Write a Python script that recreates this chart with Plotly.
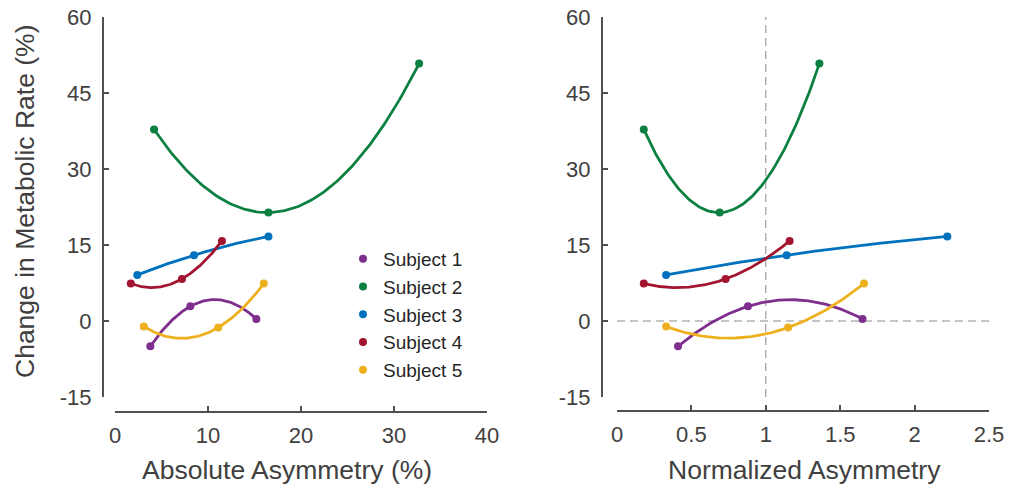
import numpy as np
import plotly.graph_objects as go

# Change in metabolic rate (%) for three asymmetry conditions per subject
subjects = ["Subject 1", "Subject 2", "Subject 3", "Subject 4", "Subject 5"]
metabolic_change = [
    [-5.0, 2.9, 0.4],
    [37.8, 21.4, 50.8],
    [9.1, 13.0, 16.7],
    [7.4, 8.3, 15.8],
    [-1.1, -1.3, 7.4],
]
# Absolute asymmetry (%) for each condition
absolute_asym = [
    [3.8, 8.1, 15.2],
    [4.2, 16.5, 32.7],
    [2.4, 8.5, 16.5],
    [1.7, 7.2, 11.5],
    [3.1, 11.1, 16.0],
]
# Asymmetry normalized to each subject's natural asymmetry
normalized_asym = [
    [0.41, 0.88, 1.65],
    [0.18, 0.69, 1.36],
    [0.33, 1.14, 2.22],
    [0.18, 0.73, 1.16],
    [0.33, 1.15, 1.66],
]
colors = ["#7E2F8E", "#0B8041", "#0072BD", "#A2142F", "#EDB120"]

y_ticks = [-15, 0, 15, 30, 45, 60]
y_ticktext = ["-15", "0", "15", "30", "45", "60"]
x1_ticks = [0, 10, 20, 30, 40]
x2_ticks = [0, 0.5, 1, 1.5, 2, 2.5]
x2_ticktext = ["0", "0.5", "1", "1.5", "2", "2.5"]

W, H = 1009, 494
FONT = "Liberation Sans, Arial, Helvetica, sans-serif"
AXC = "#505050"
TXT = "#404040"


def px_x(p):
    return p / W


def px_y(p):
    return 1 - p / H


fig = go.Figure()


def add_panel(xvals, xa, ya, legend):
    for i, name in enumerate(subjects):
        x = np.array(xvals[i])
        y = np.array(metabolic_change[i])
        # quadratic fit through each subject's three conditions
        coef = np.polyfit(x, y, 2)
        xs = np.linspace(x.min(), x.max(), 120)
        fig.add_trace(go.Scatter(
            x=xs, y=np.polyval(coef, xs), mode="lines",
            line=dict(color=colors[i], width=2.8),
            xaxis=xa, yaxis=ya, showlegend=False, hoverinfo="skip"))
        fig.add_trace(go.Scatter(
            x=x, y=y, mode="markers", name=name,
            marker=dict(color=colors[i], size=8),
            xaxis=xa, yaxis=ya, showlegend=legend))


add_panel(absolute_asym, "x", "y", True)
add_panel(normalized_asym, "x2", "y2", False)

axis_common = dict(
    showline=True, linecolor=AXC, linewidth=2,
    ticks="inside", ticklen=5, tickwidth=2, tickcolor=AXC,
    showgrid=False, zeroline=False, automargin=False,
    tickfont=dict(family=FONT, size=22, color=TXT),
)
y_dom = [px_y(397), px_y(17)]

fig.update_layout(
    width=W, height=H,
    margin=dict(l=0, r=0, t=0, b=0, autoexpand=False),
    paper_bgcolor="white", plot_bgcolor="white",
    xaxis=dict(domain=[px_x(115), px_x(487)], range=[0, 40],
               anchor="free", position=px_y(411.5), tickvals=x1_ticks,
               ticklabelstandoff=4, **axis_common),
    yaxis=dict(domain=y_dom, range=[-15, 60], anchor="free",
               position=px_x(103), tickvals=y_ticks, ticktext=y_ticktext,
               ticklabelstandoff=6, **axis_common),
    xaxis2=dict(domain=[px_x(617), px_x(989)], range=[0, 2.5],
                anchor="free", position=px_y(410.5), tickvals=x2_ticks,
                ticktext=x2_ticktext, ticklabelstandoff=4, **axis_common),
    yaxis2=dict(domain=y_dom, range=[-15, 60], anchor="free",
                position=px_x(602), tickvals=y_ticks, ticktext=y_ticktext,
                ticklabelstandoff=6, **axis_common),
    legend=dict(x=px_x(343), y=px_y(240), xanchor="left", yanchor="top",
                bgcolor="rgba(0,0,0,0)", borderwidth=0, tracegroupgap=0,
                font=dict(family=FONT, size=19, color="#262626")),
    showlegend=True,
)

# Reference lines at zero change and at normalized asymmetry of 1
fig.add_shape(type="line", xref="x2", yref="y2", x0=0, x1=2.5, y0=0, y1=0,
              line=dict(color="#8a8a8a", width=1, dash="8px,5px"), layer="below")
fig.add_shape(type="line", xref="x2", yref="y2", x0=1, x1=1, y0=-15, y1=60,
              line=dict(color="#8a8a8a", width=1, dash="8px,5px"), layer="below")

title_font = dict(family=FONT, size=26.5, color=TXT)
fig.add_annotation(text="Absolute Asymmetry (%)", xref="paper", yref="paper",
                   x=px_x(287), y=px_y(470), xanchor="center", yanchor="middle",
                   showarrow=False, font=title_font)
fig.add_annotation(text="Normalized Asymmetry", xref="paper", yref="paper",
                   x=px_x(804), y=px_y(470), xanchor="center", yanchor="middle",
                   showarrow=False, font=title_font)
fig.add_annotation(text="Change in Metabolic Rate (%)", xref="paper", yref="paper",
                   x=px_x(25), y=px_y(201), xanchor="center", yanchor="middle",
                   textangle=-90, showarrow=False, font=title_font)

fig.write_html("out.html")
